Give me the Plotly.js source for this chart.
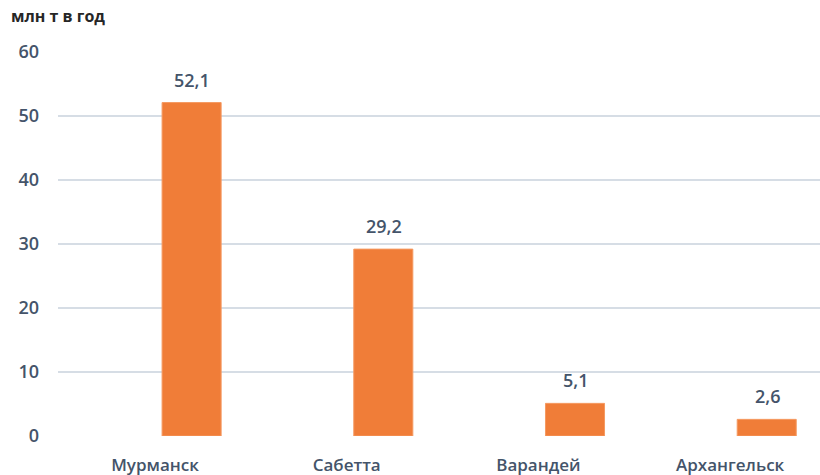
<!DOCTYPE html>
<html><head><meta charset="utf-8">
<script src="https://cdn.plot.ly/plotly-3.0.1.min.js"></script>
<style>html,body{margin:0;padding:0;background:#fff}#chart{width:820px;height:475px}</style>
</head><body><div id="chart"></div>
<script>
const ports = ["Мурманск", "Сабетта", "Варандей", "Архангельск"];
const volumes = [52.1, 29.2, 5.1, 2.6];
const yTicks = [0, 10, 20, 30, 40, 50, 60];
const unitLabel = "млн т в год";

const labelColor = "#44546A";
const fontFam = "'Open Sans', Lato, sans-serif";

const trace = {
  type: "bar",
  x: ports,
  y: volumes,
  width: 0.308,
  offset: 0.037,
  marker: {color: "#F07D38", line: {color: "#F59A62", width: 1}},
  hoverinfo: "x+y"
};

const annotations = ports.map((p, i) => ({
  x: p, y: volumes[i], xref: "x", yref: "y",
  text: volumes[i].toFixed(1).replace(".", ","),
  showarrow: false, yanchor: "bottom", yshift: 9, xshift: 37,
  font: {family: fontFam, size: 18, color: labelColor, weight: 600}
}));
annotations.push({
  xref: "paper", yref: "paper", x: -0.064, y: 1.06, xanchor: "left", yanchor: "bottom",
  text: unitLabel, showarrow: false,
  font: {family: fontFam, size: 16, color: "#262626", weight: 700}
});

const layout = {
  width: 820, height: 475,
  margin: {l: 58, r: 0, t: 52, b: 39},
  paper_bgcolor: "#fff", plot_bgcolor: "#fff",
  showlegend: false,
  separators: ", ",
  xaxis: {
    type: "category", range: [-0.506, 3.469],
    showgrid: false, zeroline: false, showline: false, ticks: "",
    ticklabelstandoff: 17,
    tickfont: {family: fontFam, size: 17, color: labelColor, weight: 600}
  },
  yaxis: {
    range: [0, 60], tickvals: yTicks, ticktext: yTicks.map(String),
    showgrid: true, gridcolor: "#D6DDE5", gridwidth: 1.5,
    zeroline: false, showline: false, ticks: "",
    ticklabelstandoff: 18,
    tickfont: {family: fontFam, size: 18, color: labelColor, weight: 600}
  },
  annotations: annotations
};

Plotly.newPlot("chart", [trace], layout, {displayModeBar: false, staticPlot: true});
</script></body></html>
